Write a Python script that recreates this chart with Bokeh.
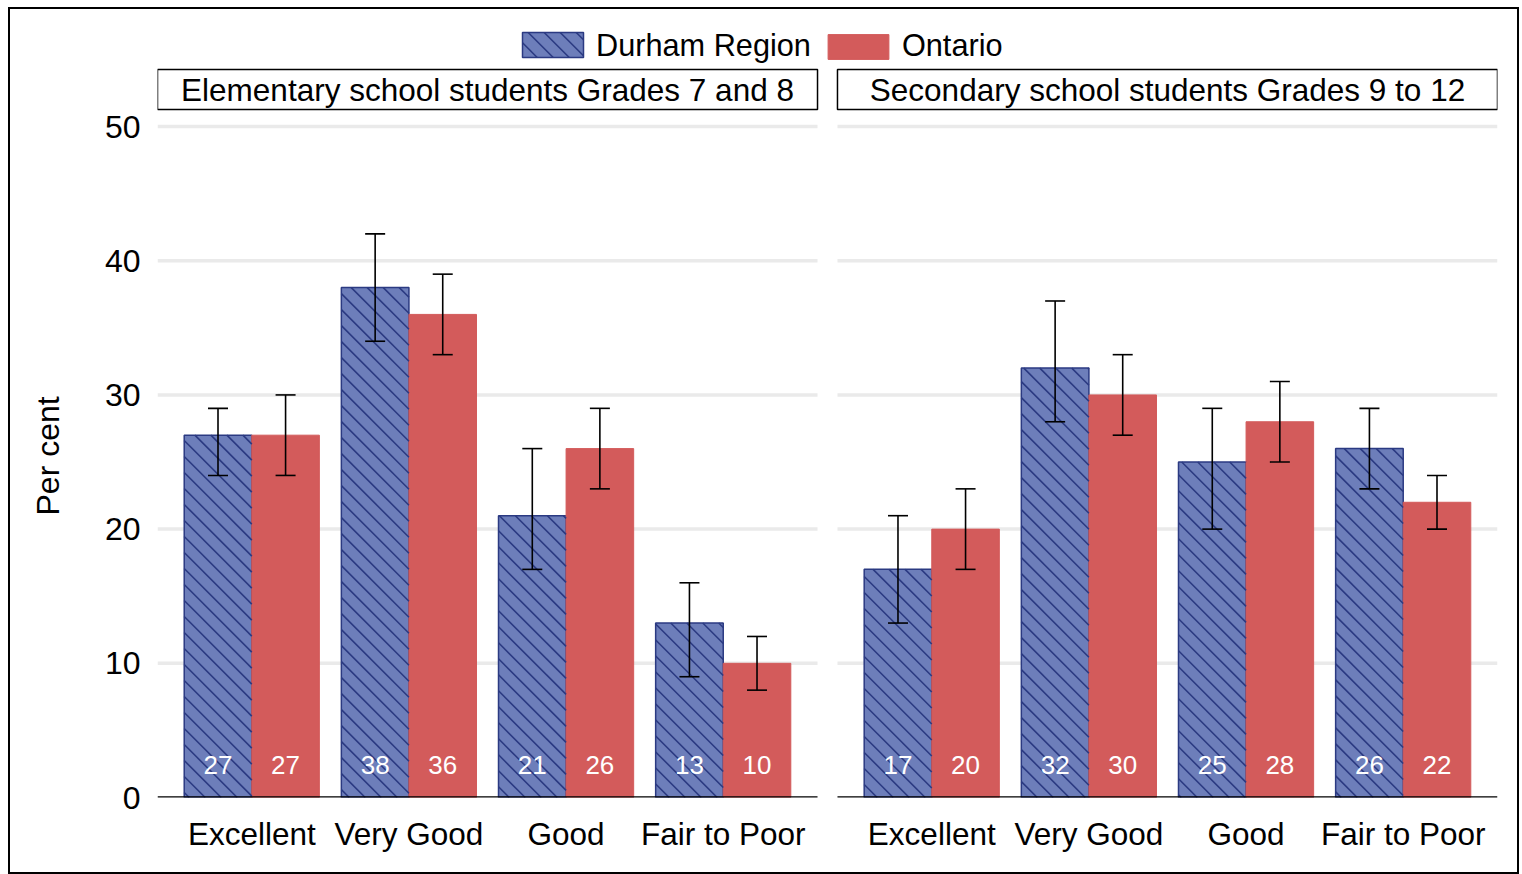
import math
from bokeh.plotting import figure
from bokeh.models import (FactorRange, ColumnDataSource, Whisker, TeeHead, Legend,
                          LegendItem, FixedTicker, Range1d)
from bokeh.transform import dodge
from bokeh.core.properties import value
from bokeh.embed import file_html
from bokeh.resources import INLINE

# ---------------- data ----------------
panel_keys = ["Elementary", "Secondary"]
panel_titles = ["Elementary school students Grades 7 and 8",
                "Secondary school students Grades 9 to 12"]
categories = ["Excellent", "Very Good", "Good", "Fair to Poor"]
series = ["Durham Region", "Ontario"]
y_title = "Per cent"

durham_elem = [27, 38, 21, 13]
durham_elem_lo = [24, 34, 17, 9]
durham_elem_hi = [29, 42, 26, 16]
ontario_elem = [27, 36, 26, 10]
ontario_elem_lo = [24, 33, 23, 8]
ontario_elem_hi = [30, 39, 29, 12]

durham_sec = [17, 32, 25, 26]
durham_sec_lo = [13, 28, 20, 23]
durham_sec_hi = [21, 37, 29, 29]
ontario_sec = [20, 30, 28, 22]
ontario_sec_lo = [17, 27, 25, 20]
ontario_sec_hi = [23, 33, 31, 24]

y_ticks = [0, 10, 20, 30, 40, 50]

# ---------------- styles / layout ----------------
FONT = "Liberation Sans"
BLUE = "#6D7EBA"
NAVY = "#2B3A82"
RED = "#D35B5B"
BAR_W = 0.43
OFF = 0.215
PAD = 0.6
GP = 0.327          # gap between panels (factor units)
RP = 0.1            # range padding
W, H = 1511, 867
MB_L, MB_R, MB_T, MB_B = 147, 24, 7, 79
Y_END = 58.2
FRAME_W = W - MB_L - MB_R
FRAME_H = H - MB_T - MB_B
PX_X = FRAME_W / (2 * len(categories) + GP + 2 * RP)   # px per factor unit
PX_Y = FRAME_H / Y_END                                  # px per percent
PAGE_X0, PAGE_Y0 = 10, 9                                # canvas origin on the page
HATCH = 16.0                                            # hatch spacing in px

factors = [(k, c) for k in panel_keys for c in categories]
src = ColumnDataSource(dict(
    x=factors,
    d=durham_elem + durham_sec,
    d_lo=durham_elem_lo + durham_sec_lo,
    d_hi=durham_elem_hi + durham_sec_hi,
    o=ontario_elem + ontario_sec,
    o_lo=ontario_elem_lo + ontario_sec_lo,
    o_hi=ontario_elem_hi + ontario_sec_hi,
    d_lab=[str(v) for v in durham_elem + durham_sec],
    o_lab=[str(v) for v in ontario_elem + ontario_sec],
))

x_range = FactorRange(factors=factors, factor_padding=0.0, group_padding=GP,
                      range_padding=RP, range_padding_units="absolute")

p = figure(width=W, height=H, x_range=x_range, y_range=Range1d(0, Y_END),
           output_backend="svg", toolbar_location=None,
           min_border_left=MB_L, min_border_right=MB_R, min_border_top=MB_T,
           min_border_bottom=MB_B,
           styles={"border": "2px solid black", "margin-left": "8px", "margin-top": "7px"})
p.outline_line_color = None
p.xgrid.visible = False
p.ygrid.visible = False

frame_left_page = PAGE_X0 + MB_L
frame_bottom_page = PAGE_Y0 + MB_T + FRAME_H


def page_to_data(px, py):
    return -RP + (px - frame_left_page) / PX_X, (frame_bottom_page - py) / PX_Y


def hatch_rect(L, R, B, T, out):
    """45-degree '\\' hatch lines inside a rectangle given in px (y up); stored in data units."""
    c = math.ceil((L + B) / HATCH) * HATCH
    while c < R + T:
        xa, xb = max(L, c - T), min(R, c - B)
        if xb > xa:
            out["x0"].append(xa / PX_X); out["y0"].append((c - xa) / PX_Y)
            out["x1"].append(xb / PX_X); out["y1"].append((c - xb) / PX_Y)
        c += HATCH


# gridlines per panel
first = [(k, categories[0]) for k in panel_keys]
last = [(k, categories[-1]) for k in panel_keys]
g_x0, g_x1, g_y = [], [], []
for t in y_ticks[1:]:
    for a, b in zip(first, last):
        g_x0.append(a); g_x1.append(b); g_y.append(t)
grid_src = ColumnDataSource(dict(x0=g_x0, x1=g_x1, y=g_y))
p.segment(x0=dodge("x0", -PAD, range=x_range), x1=dodge("x1", PAD, range=x_range),
          y0="y", y1="y", source=grid_src, line_color="#EAEAEA", line_width=3.5)

# bars
p.vbar(x=dodge("x", -OFF, range=x_range), top="d", width=BAR_W, source=src,
       fill_color=BLUE, line_color=NAVY, line_width=1.5)
ro = p.vbar(x=dodge("x", OFF, range=x_range), top="o", width=BAR_W, source=src,
            fill_color=RED, line_color=RED, line_width=1)
# transparent twin of the Durham bars, used for the legend entry
rd_legend = p.vbar(x=dodge("x", -OFF, range=x_range), top="d", width=BAR_W, source=src,
                   fill_alpha=0, line_alpha=0)

# hatch on the Durham bars (synthetic factor positions: panel*(4+GP) + index + 0.5)
hatch = dict(x0=[], y0=[], x1=[], y1=[])
durham_all = [durham_elem, durham_sec]
for i, vals in enumerate(durham_all):
    for j, v in enumerate(vals):
        cx = i * (len(categories) + GP) + j + 0.5 - OFF
        hatch_rect((cx - BAR_W / 2) * PX_X, (cx + BAR_W / 2) * PX_X, 0.0, v * PX_Y, hatch)

# hatched legend swatch for Durham Region
sx0, sy0 = page_to_data(522, 57)
sx1, sy1 = page_to_data(583, 32)
p.quad(left=[sx0], right=[sx1], bottom=[sy0], top=[sy1],
       fill_color=BLUE, line_color=NAVY, line_width=1.5)
hatch_rect(sx0 * PX_X, sx1 * PX_X, sy0 * PX_Y, sy1 * PX_Y, hatch)

p.segment(x0="x0", y0="y0", x1="x1", y1="y1", source=ColumnDataSource(hatch),
          line_color=NAVY, line_width=1.6)

# baselines
base_src = ColumnDataSource(dict(x0=first, x1=last, y=[0, 0]))
p.segment(x0=dodge("x0", -PAD, range=x_range), x1=dodge("x1", PAD, range=x_range),
          y0="y", y1="y", source=base_src, line_color="black", line_width=2.5)

# value labels
LABEL_Y = 2.4
p.text(x=dodge("x", -OFF, range=x_range), y=LABEL_Y, text="d_lab", source=src,
       text_color="white", text_font_size="26px", text_font=value(FONT),
       text_align="center", text_baseline="middle")
p.text(x=dodge("x", OFF, range=x_range), y=LABEL_Y, text="o_lab", source=src,
       text_color="white", text_font_size="26px", text_font=value(FONT),
       text_align="center", text_baseline="middle")

# error bars
for base_off, lo, hi in [(-OFF, "d_lo", "d_hi"), (OFF, "o_lo", "o_hi")]:
    w = Whisker(source=src, base=dodge("x", base_off, range=x_range), lower=lo, upper=hi,
                line_color="black", line_width=1.6, level="annotation",
                lower_head=TeeHead(size=20, line_width=1.6, line_color="black"),
                upper_head=TeeHead(size=20, line_width=1.6, line_color="black"))
    p.add_layout(w)

# panel headers
HEAD_LO, HEAD_HI = 51.27, 54.25
head_src = ColumnDataSource(dict(x0=first, x1=last,
                                 xc=[(k, categories[1]) for k in panel_keys],
                                 title=panel_titles))
p.quad(left=dodge("x0", -PAD, range=x_range), right=dodge("x1", PAD, range=x_range),
       bottom=HEAD_LO, top=HEAD_HI, source=head_src,
       fill_color="white", line_color="black", line_width=1.5)
p.text(x=dodge("xc", 0.5, range=x_range), y=(HEAD_LO + HEAD_HI) / 2, text="title",
       source=head_src, text_font_size="31.5px", text_font=value(FONT), text_color="black",
       text_align="center", text_baseline="middle")

# axes
p.yaxis.ticker = FixedTicker(ticks=y_ticks)
p.yaxis.axis_line_color = None
p.yaxis.major_tick_line_color = None
p.yaxis.minor_tick_line_color = None
p.yaxis.major_label_standoff = 11
p.yaxis.major_label_text_font_size = "32px"
p.yaxis.major_label_text_font = FONT
p.yaxis.major_label_text_color = "black"
# non-breaking spaces move the visible title down beside the 0-50 scale
p.yaxis.axis_label = y_title + "\u00a0" * 11
p.yaxis.axis_label_text_font_size = "32px"
p.yaxis.axis_label_text_font = FONT
p.yaxis.axis_label_text_font_style = "normal"
p.yaxis.axis_label_text_color = "black"
p.yaxis.axis_label_standoff = 36

p.xaxis.axis_line_color = None
p.xaxis.major_tick_line_color = None
p.xaxis.minor_tick_line_color = None
p.xaxis.major_label_standoff = 12
p.xaxis.major_label_text_font_size = "31.5px"
p.xaxis.major_label_text_font = FONT
p.xaxis.major_label_text_color = "black"
p.xaxis.group_text_font_size = "0px"
p.xaxis.group_text_color = None
p.xaxis.separator_line_color = None

# legend
legend = Legend(items=[LegendItem(label=series[0], renderers=[rd_legend]),
                       LegendItem(label=series[1], renderers=[ro])],
                orientation="horizontal", location=(357, 733),
                glyph_width=76, glyph_height=31, label_standoff=6, spacing=9,
                padding=0, margin=0, border_line_color=None, background_fill_alpha=0,
                label_text_font_size="30.7px", label_text_font=FONT,
                label_text_color="black")
p.add_layout(legend)

open("out.html", "w").write(file_html(p, INLINE))
